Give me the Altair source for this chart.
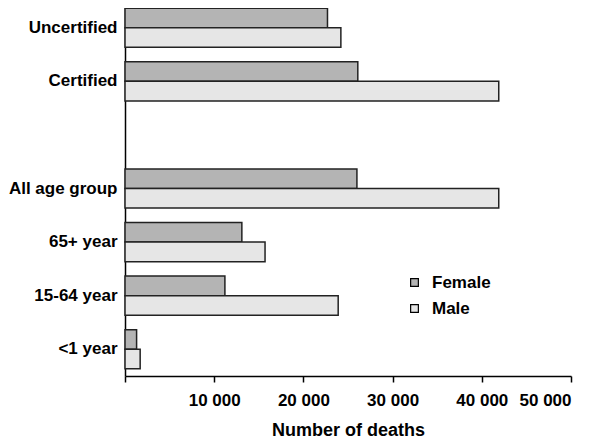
import altair as alt
import pandas as pd

categories = ["Uncertified", "Uncertified", "Certified", "Certified",
              "All age group", "All age group", "65+ year", "65+ year",
              "15-64 year", "15-64 year", "<1 year", "<1 year"]
sexes = ["Female", "Male"] * 6
deaths = [22700, 24200, 26100, 41900, 26000, 41900,
          13100, 15700, 11200, 23900, 1300, 1700]

cat_order = ["Uncertified", "Certified", " ", "All age group",
             "65+ year", "15-64 year", "<1 year"]
tick_values = [0, 10000, 20000, 30000, 40000, 50000]

df = pd.DataFrame({"category": categories, "sex": sexes, "deaths": deaths})

FONT = "Liberation Sans"

chart = alt.Chart(df).mark_bar(
    stroke="#222222", strokeWidth=1.5
).encode(
    x=alt.X("deaths:Q",
            scale=alt.Scale(domain=[0, 50000], nice=False, zero=True),
            axis=alt.Axis(values=tick_values,
                          labelExpr="datum.value == 0 ? '' : replace(format(datum.value, ','), ',', ' ')",
                          title="Number of deaths", grid=False,
                          tickSize=6, tickWidth=1.5, tickColor="black",
                          domainColor="black", domainWidth=1.5,
                          labelPadding=10, titlePadding=13,
                          labelFont=FONT, labelFontSize=17, labelFontWeight="bold",
                          labelColor="black",
                          titleFont=FONT, titleFontSize=18, titleFontWeight="bold",
                          titleColor="black")),
    y=alt.Y("category:N",
            scale=alt.Scale(domain=cat_order, range=[-7, 368],
                            paddingInner=0.27, paddingOuter=0.135),
            axis=alt.Axis(title=None, ticks=False, tickSize=0, labelPadding=8,
                          domainColor="black", domainWidth=1.5,
                          labelFont=FONT, labelFontSize=17, labelFontWeight="bold",
                          labelColor="black")),
    yOffset=alt.YOffset("sex:N", sort=["Female", "Male"],
                        scale=alt.Scale(paddingInner=0, paddingOuter=0)),
    fill=alt.Fill("sex:N",
                  scale=alt.Scale(domain=["Female", "Male"],
                                  range=["#b4b4b4", "#e6e6e6"]),
                  legend=alt.Legend(title=None, orient="none",
                                    legendX=281, legendY=266,
                                    padding=0, symbolType="square",
                                    symbolSize=60, symbolStrokeColor="black",
                                    symbolStrokeWidth=1.2, labelOffset=9,
                                    rowPadding=8,
                                    labelFont=FONT, labelFontSize=17,
                                    labelFontWeight="bold", labelColor="black")),
).properties(
    width=446, height=368,
    autosize=alt.AutoSizeParams(type="none"),
    padding={"left": 117, "top": 0, "right": 20, "bottom": 64},
).configure_view(stroke=None)

chart.save("out.html", embed_options={"renderer": "svg", "actions": False})
